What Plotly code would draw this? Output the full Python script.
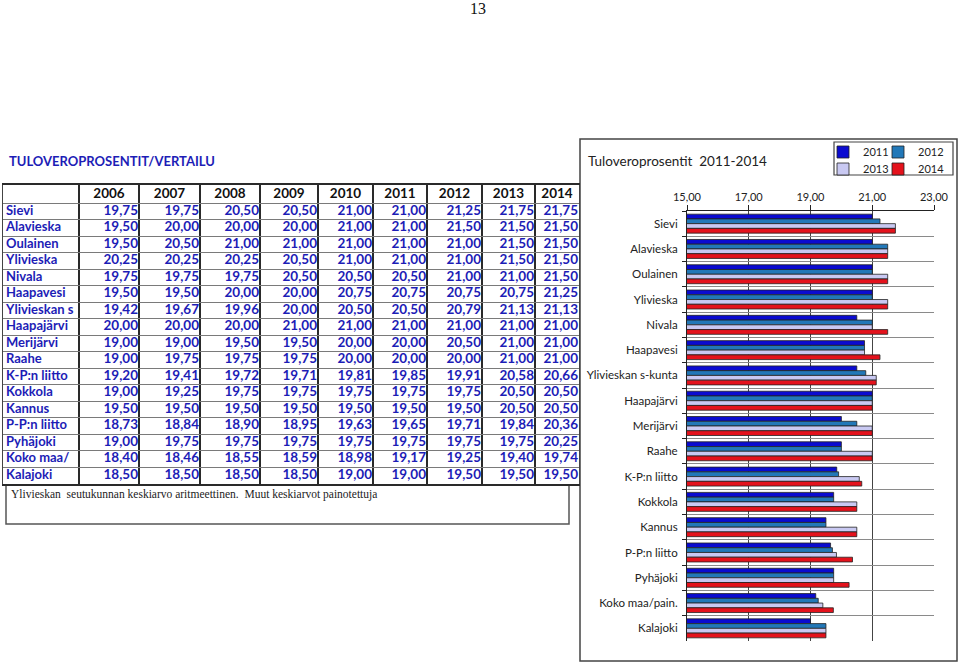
import plotly.graph_objects as go

W, H = 960, 663

table_labels = ["Sievi", "Alavieska", "Oulainen", "Ylivieska", "Nivala", "Haapavesi",
                "Ylivieskan s", "Haapajärvi", "Merijärvi", "Raahe", "K-P:n liitto",
                "Kokkola", "Kannus", "P-P:n liitto", "Pyhäjoki", "Koko maa/", "Kalajoki"]
chart_labels = ["Sievi", "Alavieska", "Oulainen", "Ylivieska", "Nivala", "Haapavesi",
                "Ylivieskan s-kunta", "Haapajärvi", "Merijärvi", "Raahe", "K-P:n liitto",
                "Kokkola", "Kannus", "P-P:n liitto", "Pyhäjoki", "Koko maa/pain.", "Kalajoki"]
years = ["2006", "2007", "2008", "2009", "2010", "2011", "2012", "2013", "2014"]

v2006 = [19.75, 19.50, 19.50, 20.25, 19.75, 19.50, 19.42, 20.00, 19.00, 19.00, 19.20, 19.00, 19.50, 18.73, 19.00, 18.40, 18.50]
v2007 = [19.75, 20.00, 20.50, 20.25, 19.75, 19.50, 19.67, 20.00, 19.00, 19.75, 19.41, 19.25, 19.50, 18.84, 19.75, 18.46, 18.50]
v2008 = [20.50, 20.00, 21.00, 20.25, 19.75, 20.00, 19.96, 20.00, 19.50, 19.75, 19.72, 19.75, 19.50, 18.90, 19.75, 18.55, 18.50]
v2009 = [20.50, 20.00, 21.00, 20.50, 20.50, 20.00, 20.00, 21.00, 19.50, 19.75, 19.71, 19.75, 19.50, 18.95, 19.75, 18.59, 18.50]
v2010 = [21.00, 21.00, 21.00, 21.00, 20.50, 20.75, 20.50, 21.00, 20.00, 20.00, 19.81, 19.75, 19.50, 19.63, 19.75, 18.98, 19.00]
v2011 = [21.00, 21.00, 21.00, 21.00, 20.50, 20.75, 20.50, 21.00, 20.00, 20.00, 19.85, 19.75, 19.50, 19.65, 19.75, 19.17, 19.00]
v2012 = [21.25, 21.50, 21.00, 21.00, 21.00, 20.75, 20.79, 21.00, 20.50, 20.00, 19.91, 19.75, 19.50, 19.71, 19.75, 19.25, 19.50]
v2013 = [21.75, 21.50, 21.50, 21.50, 21.00, 20.75, 21.13, 21.00, 21.00, 21.00, 20.58, 20.50, 20.50, 19.84, 19.75, 19.40, 19.50]
v2014 = [21.75, 21.50, 21.50, 21.50, 21.50, 21.25, 21.13, 21.00, 21.00, 21.00, 20.66, 20.50, 20.50, 20.36, 20.25, 19.74, 19.50]
all_years = [v2006, v2007, v2008, v2009, v2010, v2011, v2012, v2013, v2014]

chart_years = ["2011", "2012", "2013", "2014"]
chart_series = [v2011, v2012, v2013, v2014]
bar_colors = ["#0b0bd0", "#2278b8", "#c9c9f2", "#e4121c"]

x_ticks = [15, 17, 19, 21, 23]

BLUE = "#1d1db6"
FONT = "Lato"


def px(x):
    return x / W


def py(y):
    return 1 - y / H


def fmt(v):
    return ("%.2f" % v).replace(".", ",")


# table geometry (pixel-like units inside the table subplot)
col_w = [76, 60, 61, 60, 58, 55, 54, 55, 53, 44]
col_b = [0]
for w in col_w:
    col_b.append(col_b[-1] + w)
head_h, row_h = 18, 16.5
row_b = [0, head_h] + [head_h + row_h * (i + 1) for i in range(len(table_labels))]
row_c = [head_h + row_h * (i + 0.5) for i in range(len(table_labels))]
T_LEFT, T_TOP = 3, 185

fig = go.Figure()

# ---------- table (text on its own axes) ----------
fig.add_trace(go.Scatter(
    x=[col_b[0] + 3] * len(table_labels), y=row_c, text=table_labels,
    mode="text", textposition="middle right", cliponaxis=False,
    textfont=dict(family=FONT, size=13, color=BLUE, weight="bold"),
    xaxis="x2", yaxis="y2", showlegend=False, hoverinfo="skip"))
for j, col in enumerate(all_years):
    fig.add_trace(go.Scatter(
        x=[col_b[j + 2] - 1] * len(col), y=row_c, text=[fmt(v) for v in col],
        mode="text", textposition="middle left", cliponaxis=False,
        textfont=dict(family=FONT, size=13.5, color=BLUE, weight="bold"),
        xaxis="x2", yaxis="y2", showlegend=False, hoverinfo="skip"))
fig.add_trace(go.Scatter(
    x=[(col_b[j + 1] + col_b[j + 2]) / 2 for j in range(len(years))],
    y=[head_h / 2 + 1] * len(years), text=years,
    mode="text", textposition="middle center", cliponaxis=False,
    textfont=dict(family=FONT, size=13.5, color="#111111", weight="bold"),
    xaxis="x2", yaxis="y2", showlegend=False, hoverinfo="skip"))

# ---------- bar chart ----------
for i, (yr, vals) in enumerate(zip(chart_years, chart_series)):
    fig.add_trace(go.Bar(
        x=vals, y=chart_labels, orientation="h", name=yr,
        marker=dict(color=bar_colors[i], line=dict(color="#222222", width=0.8)),
        legend=["legend", "legend2", "legend3", "legend4"][i],
        xaxis="x", yaxis="y",
    ))

leg_common = dict(orientation="h", xanchor="left", yanchor="middle",
                  bgcolor="rgba(0,0,0,0)", borderwidth=0,
                  font=dict(family=FONT, size=11, color="#222222"))

fig.update_layout(
    width=W, height=H,
    margin=dict(l=0, r=0, t=0, b=0, autoexpand=False),
    paper_bgcolor="white", plot_bgcolor="white",
    separators=", ",
    barmode="group", bargap=0.25, bargroupgap=0,
    font=dict(family=FONT, size=11, color="#222222"),
    xaxis=dict(domain=[px(687), px(934)], range=[15, 23], side="top", anchor="y",
               tickvals=x_ticks, tickformat=".2f",
               ticks="outside", ticklen=5, tickcolor="#222222",
               showline=True, linecolor="#222222", linewidth=1,
               showgrid=True, gridcolor="#444444", gridwidth=1,
               zeroline=False, fixedrange=True, automargin=False,
               tickfont=dict(family=FONT, size=11, color="#222222")),
    yaxis=dict(domain=[py(641), py(211)], autorange="reversed", anchor="x",
               type="category", tickson="boundaries",
               ticks="outside", ticklen=4, tickcolor="#222222",
               ticklabelstandoff=6,
               showline=True, linecolor="#222222", linewidth=1,
               showgrid=True, gridcolor="#8a8a8a", gridwidth=1, automargin=False,
               tickfont=dict(family=FONT, size=11.5, color="#222222")),
    xaxis2=dict(domain=[px(T_LEFT), px(T_LEFT + col_b[-1])], range=[0, col_b[-1]], anchor="y2",
                tickvals=col_b, showticklabels=False, ticks="",
                showgrid=True, gridcolor="#2a2a2a", gridwidth=2,
                showline=True, mirror=True, linecolor="#2a2a2a", linewidth=2,
                zeroline=False, fixedrange=True, automargin=False),
    yaxis2=dict(domain=[py(T_TOP + row_b[-1]), py(T_TOP)], range=[row_b[-1], 0], anchor="x2",
                tickvals=row_b, showticklabels=False, ticks="",
                showgrid=True, gridcolor="#7a7a7a", gridwidth=1,
                showline=True, mirror=True, linecolor="#444444", linewidth=1,
                zeroline=False, fixedrange=True, automargin=False),
    legend=dict(leg_common, x=px(823), y=py(152)),
    legend2=dict(leg_common, x=px(878), y=py(152)),
    legend3=dict(leg_common, x=px(823), y=py(169)),
    legend4=dict(leg_common, x=px(878), y=py(169)),
)

shapes = [
    dict(type="rect", xref="paper", yref="paper", x0=px(580), x1=px(957), y0=py(661), y1=py(139),
         line=dict(color="#444444", width=1.5), layer="below"),
    dict(type="rect", xref="paper", yref="paper", x0=px(834), x1=px(953), y0=py(175), y1=py(142),
         line=dict(color="#444444", width=1.2), layer="above"),
    dict(type="rect", xref="paper", yref="paper", x0=px(6), x1=px(569), y0=py(524), y1=py(485),
         line=dict(color="#555555", width=1.5), layer="below"),
]
fig.update_layout(shapes=shapes)

annotations = [
    dict(text="13", x=px(478), y=py(9), xref="paper", yref="paper", showarrow=False,
         xanchor="center", yanchor="middle",
         font=dict(family="Liberation Serif", size=16, color="#111111")),
    dict(text="<b>TULOVEROPROSENTIT/VERTAILU</b>", x=px(7), y=py(161), xref="paper", yref="paper",
         showarrow=False, xanchor="left", yanchor="middle",
         font=dict(family=FONT, size=13, color=BLUE)),
    dict(text="Tuloveroprosentit  2011-2014", x=px(586), y=py(161), xref="paper", yref="paper",
         showarrow=False, xanchor="left", yanchor="middle",
         font=dict(family=FONT, size=13.5, color="#222222")),
    dict(text="Ylivieskan  seutukunnan keskiarvo aritmeettinen.  Muut keskiarvot painotettuja",
         x=px(9), y=py(494), xref="paper", yref="paper",
         showarrow=False, xanchor="left", yanchor="middle",
         font=dict(family="Liberation Serif", size=11.5, color="#222222")),
]
fig.update_layout(annotations=annotations)

fig.write_html("out.html", config={"displayModeBar": False},
               post_script="document.body.style.margin='0';document.body.style.overflow='hidden';")
